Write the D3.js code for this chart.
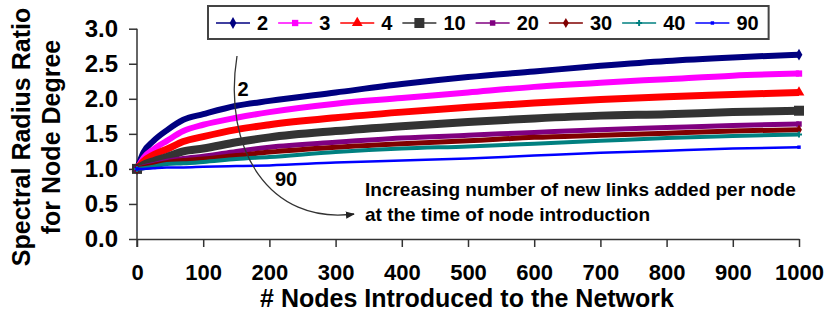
<!DOCTYPE html>
<html>
<head>
<meta charset="utf-8">
<script src="https://cdn.jsdelivr.net/npm/d3@7"></script>
<style>
	body { margin: 0; background: #fff; }
	text { font-family: "Liberation Sans", Arial, sans-serif; font-weight: bold; fill: #000; }
</style>
</head>
<body>
<svg id="chart"></svg>
<script>
// nodes introduced (x) and the ratio for each "links per node" series
var nodes = [0, 10, 25, 45, 70, 100, 150, 200, 300, 400, 500, 600, 700, 800, 900, 1000];
var links = ["2", "3", "4", "10", "20", "30", "40", "90"];
var ratio2  = [1.0, 1.24, 1.40, 1.55, 1.70, 1.78, 1.90, 1.97, 2.09, 2.21, 2.31, 2.39, 2.47, 2.54, 2.59, 2.63];
var ratio3  = [1.0, 1.16, 1.28, 1.40, 1.54, 1.63, 1.73, 1.81, 1.93, 2.01, 2.09, 2.17, 2.23, 2.28, 2.33, 2.36];
var ratio4  = [1.0, 1.11, 1.20, 1.28, 1.39, 1.46, 1.56, 1.63, 1.73, 1.81, 1.88, 1.94, 1.99, 2.03, 2.06, 2.09];
var ratio10 = [1.0, 1.06, 1.11, 1.17, 1.25, 1.29, 1.38, 1.45, 1.54, 1.61, 1.67, 1.72, 1.76, 1.78, 1.81, 1.83];
var ratio20 = [1.0, 1.03, 1.06, 1.11, 1.15, 1.18, 1.25, 1.31, 1.38, 1.44, 1.48, 1.52, 1.56, 1.59, 1.62, 1.64];
var ratio30 = [1.0, 1.02, 1.05, 1.09, 1.12, 1.14, 1.19, 1.24, 1.31, 1.36, 1.40, 1.45, 1.48, 1.51, 1.54, 1.56];
var ratio40 = [1.0, 1.01, 1.03, 1.07, 1.08, 1.10, 1.14, 1.17, 1.24, 1.29, 1.32, 1.36, 1.40, 1.44, 1.47, 1.49];
var ratio90 = [1.0, 1.0, 1.01, 1.02, 1.02, 1.03, 1.04, 1.05, 1.09, 1.12, 1.15, 1.19, 1.23, 1.26, 1.29, 1.31];
var xTicks = [0, 100, 200, 300, 400, 500, 600, 700, 800, 900, 1000];
var yTicks = [0, 0.5, 1.0, 1.5, 2.0, 2.5, 3.0];

var allRatios = [ratio2, ratio3, ratio4, ratio10, ratio20, ratio30, ratio40, ratio90];
var colors = ["#000080", "#ff00ff", "#ff0000", "#333333", "#800080", "#800000", "#008080", "#0000ff"];
var widths = [6, 6, 7, 8, 5, 5, 4, 2.5];
var symbols = [d3.symbolDiamond, d3.symbolSquare, d3.symbolTriangle, d3.symbolSquare,
	d3.symbolSquare, d3.symbolDiamond, d3.symbolCross, d3.symbolSquare];
var symSizes = [40, 40, 50, 100, 30, 30, 20, 12];

var width = 833;
var height = 319;

var svg = d3.select("#chart")
	.attr("width", width)
	.attr("height", height);

var xScale = d3.scaleLinear()
	.domain([0, 1000])
	.range([137, 799]);
var yScale = d3.scaleLinear()
	.domain([0, 3])
	.range([239, 28.7]);

// axes
var xAxis = d3.axisBottom(xScale)
	.tickValues(xTicks)
	.tickFormat(d3.format("d"))
	.tickSize(8)
	.tickSizeOuter(0)
	.tickPadding(17);
var yAxis = d3.axisLeft(yScale)
	.tickValues(yTicks)
	.tickFormat(d3.format(".1f"))
	.tickSize(8)
	.tickSizeOuter(0)
	.tickPadding(11);

var gx = svg.append("g")
	.attr("transform", "translate(0," + yScale(0) + ")")
	.call(xAxis);
gx.selectAll("text").style("font-size", "22px");

var gy = svg.append("g")
	.attr("transform", "translate(" + xScale(0) + ",0)")
	.call(yAxis);
gy.selectAll("text").style("font-size", "24px");

svg.selectAll(".domain, .tick line")
	.attr("stroke", "#333")
	.attr("stroke-width", 1.5);
gy.select(".domain").attr("d", "M0," + yScale(3) + "V" + (yScale(0) + 8));

// series lines
var line = d3.line()
	.x(function (d, i) {
		return xScale(nodes[i]);
	})
	.y(function (d) {
		return yScale(d);
	})
	.curve(d3.curveMonotoneX);

allRatios.forEach(function (r, k) {
	svg.append("path")
		.datum(r)
		.attr("fill", "none")
		.attr("stroke", colors[k])
		.attr("stroke-width", widths[k])
		.attr("stroke-linejoin", "round")
		.attr("d", line);
	svg.selectAll(".end" + k)
		.data([0, r.length - 1])
		.enter()
		.append("path")
		.attr("transform", function (i) {
			return "translate(" + xScale(nodes[i]) + "," + yScale(r[i]) + ")";
		})
		.attr("d", d3.symbol().type(symbols[k]).size(symSizes[k]))
		.attr("fill", colors[k]);
});

// annotation arrow
svg.append("defs").append("marker")
	.attr("id", "arr")
	.attr("viewBox", "0 0 10 10")
	.attr("refX", 9)
	.attr("refY", 5)
	.attr("markerWidth", 7)
	.attr("markerHeight", 7)
	.attr("orient", "auto")
	.append("path")
	.attr("d", "M0,1L10,5L0,9z")
	.attr("fill", "#222");

svg.append("path")
	.attr("d", "M237,56C222,150 270,225 354,214")
	.attr("fill", "none")
	.attr("stroke", "#333")
	.attr("stroke-width", 1.3)
	.attr("marker-end", "url(#arr)");

svg.append("text")
	.attr("x", 243)
	.attr("y", 96)
	.attr("text-anchor", "middle")
	.style("font-size", "20px")
	.text("2");
svg.append("text")
	.attr("x", 286)
	.attr("y", 186)
	.attr("text-anchor", "middle")
	.style("font-size", "20px")
	.text("90");
svg.append("text")
	.attr("x", 365)
	.attr("y", 196)
	.style("font-size", "19px")
	.text("Increasing number of new links added per node");
svg.append("text")
	.attr("x", 365)
	.attr("y", 221)
	.style("font-size", "19px")
	.text("at the time of node introduction");

// axis titles
svg.append("text")
	.attr("text-anchor", "middle")
	.attr("transform", "translate(30,137) rotate(-90)")
	.style("font-size", "25px")
	.text("Spectral Radius Ratio");
svg.append("text")
	.attr("text-anchor", "middle")
	.attr("transform", "translate(60,137) rotate(-90)")
	.style("font-size", "25px")
	.text("for Node Degree");
svg.append("text")
	.attr("x", 467)
	.attr("y", 307)
	.attr("text-anchor", "middle")
	.style("font-size", "25px")
	.text("# Nodes Introduced to the Network");

// legend
var legend = svg.append("g");
var box = legend.append("rect")
	.attr("x", 208)
	.attr("y", 6)
	.attr("height", 33)
	.attr("fill", "#fff")
	.attr("stroke", "#444")
	.attr("stroke-width", 2);
var lx = 216;
links.forEach(function (name, k) {
	legend.append("line")
		.attr("x1", lx)
		.attr("x2", lx + 34)
		.attr("y1", 23)
		.attr("y2", 23)
		.attr("stroke", colors[k])
		.attr("stroke-width", 1.5);
	legend.append("path")
		.attr("transform", "translate(" + (lx + 17) + ",23)")
		.attr("d", d3.symbol().type(symbols[k]).size(symSizes[k]))
		.attr("fill", colors[k]);
	var t = legend.append("text")
		.attr("x", lx + 41)
		.attr("y", 30)
		.style("font-size", "20px")
		.text(name);
	lx = lx + 41 + t.node().getComputedTextLength() + 10;
});
box.attr("width", lx - 208);
</script>
</body>
</html>
